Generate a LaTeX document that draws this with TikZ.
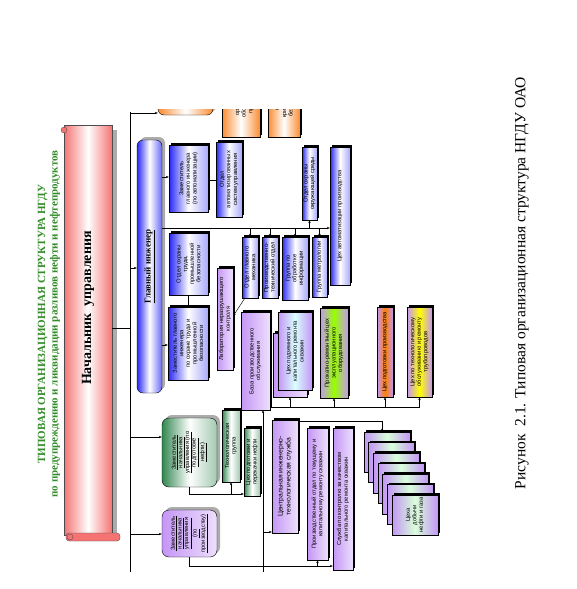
\documentclass[tikz,border=0pt]{standalone}
\usepackage{fontspec}
\setmainfont{Liberation Serif}
\setsansfont{Liberation Sans}
\usetikzlibrary{shadows, arrows.meta}

\definecolor{blu}{RGB}{40,40,245}
\definecolor{lilac}{RGB}{196,150,245}
\definecolor{grn}{RGB}{50,135,80}
\definecolor{orng}{RGB}{250,140,50}
\definecolor{scrollred}{RGB}{245,115,115}
\definecolor{ttlgreen}{RGB}{50,140,40}

% rotated text block, width = length of the box
\newcommand{\vt}[2]{\rotatebox{90}{\parbox{#1pt}{\centering #2}}}

\tikzset{
  blk/.style 2 args={rectangle, draw=black, line width=0.4pt, inner sep=0pt,
    minimum width=#1pt, minimum height=#2pt, font=\fontsize{5.8}{6.6}\selectfont\sffamily},
  shd/.style={drop shadow={shadow xshift=1.6pt, shadow yshift=1.6pt, fill=black, opacity=1}},
  gshd/.style={drop shadow={shadow xshift=3pt, shadow yshift=3pt, fill=gray!65, opacity=1}},
  bluebox/.style={left color=blu, right color=blu!40, middle color=white},
  lilbox/.style={left color=lilac, right color=lilac!30, middle color=lilac!65},
  midbox/.style={left color=lilac, right color=lilac, middle color=#1},
  grnbox/.style={left color=grn, right color=grn!45, middle color=white},
  orngbox/.style={left color=orng, right color=orng, middle color=white},
}

\begin{document}
\begin{tikzpicture}[x=1pt, y=-1pt, >={Stealth[length=3pt,width=2.4pt]}, line width=0.45pt]
\useasboundingbox (0,0) rectangle (577,589);

% title and caption
\node[rotate=90, align=center, text=ttlgreen, font=\fontsize{11}{12.5}\selectfont\bfseries] (ttl) at (49,324)
  {ТИПОВАЯ ОРГАНИЗАЦИОННАЯ СТРУКТУРА НГДУ\\по предупреждению и ликвидации разливов нефти и нефтепродуктов};
\node[rotate=90, font=\fontsize{15.5}{17}\selectfont] (cap) at (522,283)
  {Рисунок~~2.1. Типовая организационная структура НГДУ ОАО};

% scroll
\fill[gray!65] (67,130) rectangle (117,536);
\node[rectangle, minimum width=48pt, minimum height=410pt, inner sep=0pt,
  left color=scrollred, right color=scrollred, middle color=white, draw=gray!60!black, line width=0.3pt,
  font=\fontsize{14}{16}\selectfont\bfseries] (nach) at (88,330)
  {\vt{380}{\hspace*{44pt}Начальник~~управления}};
\filldraw[fill=scrollred, draw=gray!60!black, line width=0.3pt] (64,130) circle (3pt);
\filldraw[fill=scrollred, draw=gray!60!black, line width=0.3pt, rounded corners=3pt] (66,533) rectangle (120,541);
\filldraw[fill=scrollred, draw=gray!60!black, line width=0.3pt] (70,537) circle (3pt);

% top, cut off by the page
\begin{scope}
\clip (140,109) rectangle (320,200);
\node[blk={55}{55}, rounded corners=6pt, orngbox, gshd] (orngR) at (185.5,87.5) {};
\node[blk={38}{77}, orngbox, shd] (orngA) at (241,98.5)
  {\vt{73}{Отдел\\организации\\обслуживания\\промыслов}};
\node[blk={32}{77}, orngbox, shd] (orngB) at (284,98.5)
  {\vt{73}{Отдел по\\криминальной\\безопасности}};
\end{scope}

% chief engineer
\node[blk={25}{253}, rounded corners=6pt, left color=blu, right color=blu!70, middle color=white, gshd] (glav) at (149.5,266.5)
  {\vt{240}{\fontsize{9}{10}\selectfont\rmfamily\bfseries\underline{Главный инженер}}};
\node[blk={39}{67}, bluebox, shd] (zamAuto) at (188.5,178.5)
  {\vt{63}{Заместитель\\главного инженера\\(по автоматизации)}};
\node[blk={26}{75}, bluebox, shd] (otdelAsu) at (229,179.5)
  {\vt{71}{Отдел\\автоматизированных\\систем управления}};
\node[blk={39}{62}, bluebox, shd] (otdelOT) at (188.5,264)
  {\vt{58}{Отдел охраны\\труда,\\промышленной\\безопасности}};
\node[blk={40}{73}, bluebox, shd] (zamOT) at (188,343.5)
  {\vt{69}{Заместитель главного\\инженера\\по охране труда и\\промышленной\\безопасности}};
\node[blk={16}{102}, lilbox, shd] (lab) at (225,319)
  {\vt{98}{Лаборатория неразрушающего\\контроля}};
\node[blk={16}{61}, bluebox, shd] (otdelMech) at (250,267.5)
  {\vt{57}{Отдел главного\\механика}};
\node[blk={16}{61}, bluebox, shd] (pto) at (270,267.5)
  {\vt{57}{Производственно-\\технический отдел}};
\node[blk={26}{63}, bluebox, shd] (grInfo) at (295,268.5)
  {\vt{59}{Группа по\\обработке\\информации}};
\node[blk={15}{60}, bluebox, shd] (grMetr) at (319.5,267)
  {\vt{58}{Группа метрологии}};
\node[blk={15}{73}, bluebox, shd] (ohrSreda) at (309.5,183.5)
  {\vt{69}{Отдел охраны\\окружающей среды}};
\node[blk={20}{138}, bluebox, shd] (cehAuto) at (340,216)
  {\vt{134}{Цех автоматизации производства}};

% service base and shops
\node[blk={29}{98}, lilbox, shd] (baza) at (255.5,361)
  {\vt{94}{База производственного\\обслуживания}};
\node[blk={34}{64}, lilbox, shd] (cehPKRSb) at (290,365) {};
\node[blk={34}{78}, midbox=cyan!15, shd] (cehPKRS) at (295,351)
  {\vt{74}{Цех подземного и\\капитального ремонта\\скважин}};
\node[blk={28}{90}, midbox=yellow!60!green, shd] (prokat) at (334,353)
  {\vt{86}{Прокатно-ремонтный цех\\эксплуатационного\\оборудования}};
\node[blk={16}{90}, midbox=orange, shd] (cehPP) at (385,352)
  {\vt{86}{Цех подготовки производства}};
\node[blk={25}{90}, midbox=yellow, shd] (cehTrub) at (419.5,352)
  {\vt{86}{Цех по технологическому\\обслуживанию и ремонту\\трубопроводов}};

% deputies
\node[blk={55}{69}, rounded corners=7pt, grnbox, gshd] (zamNeft) at (189.5,452.5)
  {\vt{65}{\underline{Заместитель}\\\underline{начальника}\\\underline{управления (по}\\\underline{подготовке}\\\underline{нефти)}}};
\node[blk={18}{72}, grnbox, shd] (techGr) at (231,446)
  {\vt{68}{Технологическая\\группа}};
\node[blk={16}{68}, grnbox, shd] (cehNeft) at (252,462)
  {\vt{64}{Цех подготовки и\\перекачки нефти}};
\node[blk={55}{47}, rounded corners=7pt, lilbox, gshd] (zamProd) at (189.5,533.5)
  {\vt{43}{\underline{Заместитель}\\\underline{начальника}\\\underline{управления}\\\underline{(по}\\\underline{производству)}}};
\node[blk={26}{113}, lilbox, shd, font=\fontsize{6.8}{7.8}\selectfont\sffamily] (ceits) at (285,476.5)
  {\vt{109}{Центральная инженерно-\\технологическая служба}};
\node[blk={21}{132}, lilbox, shd] (prOtdel) at (317.5,494)
  {\vt{128}{Производственный отдел по текущему и\\капитальному ремонту скважин}};
\node[blk={20}{142}, lilbox, shd] (sluzhba) at (343,499)
  {\vt{138}{Служба по контролю за качеством\\капитального ремонта скважин}};
\foreach \i in {0,...,5}
  \node[blk={46}{40}, midbox=green!15, shd] (dob\i) at ({387+4.67*\i},{452+10.5*\i}) {};
\node[blk={46}{40}, midbox=green!15, shd] (dob6) at (415,515)
  {\vt{36}{Цеха\\добычи\\нефти и газа}};

% connectors
\coordinate (busTop) at (130,112);
\coordinate (busBot) at (130,572);
\draw (busTop) -- (busBot);
\draw (nach.east |- 0,328) -- (busTop |- 0,328);
\draw[->] (busTop |- 0,113) -- (orngR.west |- 0,113);
\draw[->] (busTop |- 0,268) -- (glav.west |- 0,268);
\draw[->] (busTop |- 0,437) -- (zamNeft.west |- 0,437);
\draw[->] (busTop |- 0,534) -- (zamProd.west |- 0,534);

\draw[->] (glav.east |- 0,177) -- (zamAuto.west |- 0,177);
\draw[->] (glav.east |- 0,345) -- (zamOT.west |- 0,345);
\draw (zamAuto.east |- 0,180) -- (otdelAsu.west |- 0,180);
\draw (otdelOT.south) -- (otdelOT.south |- zamOT.north);
\draw[->] (glav.east |- 0,228) -- (cehAuto.west |- 0,228);
\foreach \n in {otdelMech,pto,grInfo,grMetr}
  \draw[->] (\n.north |- 0,228) -- (\n.north);
\draw[->] (ohrSreda.south |- 0,228) -- (ohrSreda.south);
\draw[->] ([xshift=3pt]otdelMech.south west) -- (lab.east |- 0,316);

\draw (baza.east |- 0,407) -- (cehTrub.south |- 0,407);
\foreach \n in {cehPKRSb,prokat,cehPP,cehTrub}
  \draw[->] (\n.south |- 0,407) -- (\n.south);

\draw[->] (zamNeft.south) -- (zamNeft.south |- 0,494) -- (cehNeft.west |- 0,494);
\draw[->] (techGr.south |- 0,494) -- (techGr.south);

\coordinate (vb) at (263,572);
\draw[->] (zamProd.south) -- (zamProd.south |- 0,566) -- (sluzhba.west |- 0,566);
\draw[->] (vb) -- (vb |- baza.south);
\draw[->] (vb |- 0,532) -- (ceits.west |- 0,532);
\draw[->] (prOtdel.south |- 0,566) -- (prOtdel.south);
\draw[->] (ceits.east |- 0,421) -| ([xshift=-5pt]dob0.north);
\end{tikzpicture}
\end{document}
